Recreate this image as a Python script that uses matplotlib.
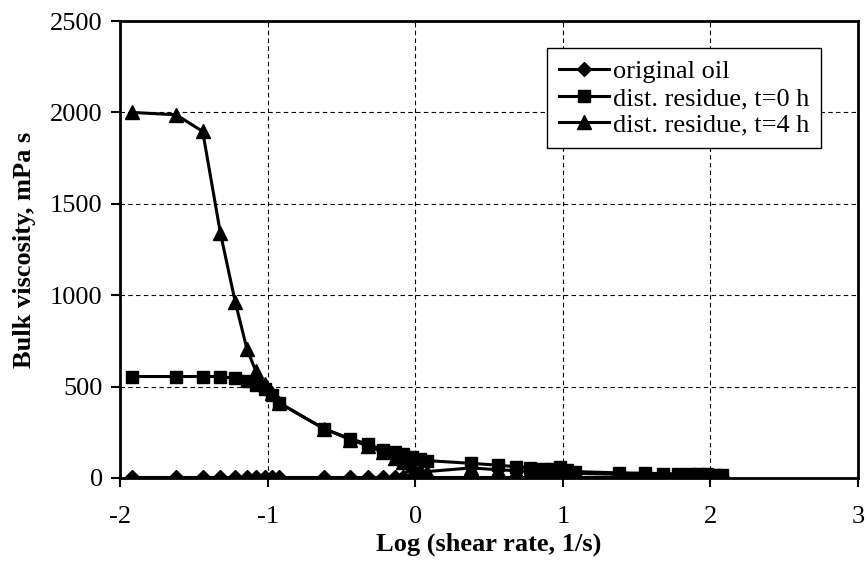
import matplotlib.pyplot as plt

plt.rcParams['font.family'] = ['Liberation Serif', 'DejaVu Serif']
plt.rcParams['axes.unicode_minus'] = False

# log10 of shear rate, 1/s
log_rate = [-1.92, -1.62, -1.44, -1.32, -1.22, -1.14, -1.08, -1.02, -0.97, -0.92,
            -0.62, -0.44, -0.32, -0.22, -0.14, -0.08, -0.02, 0.03, 0.08,
            0.38, 0.56, 0.68, 0.78, 0.86, 0.92, 0.98, 1.03, 1.08,
            1.38, 1.56, 1.68, 1.78, 1.86, 1.92, 1.98, 2.03, 2.08]

# bulk viscosity, mPa s
original_oil = [6, 6, 6, 6, 6, 6, 6, 6, 6, 6,
                6, 6, 6, 6, 6, 6, 6, 6, 6,
                6, 6, 6, 6, 6, 6, 6, 6, 6,
                6, 6, 6, 6, 6, 6, 6, 6, 6]
residue_0h = [555, 555, 555, 555, 545, 530, 510, 485, 455, 410,
              270, 215, 185, 155, 140, 130, 115, 105, 95,
              80, 70, 62, 55, 50, 50, 60, 45, 35,
              28, 26, 24, 22, 20, 20, 19, 18, 18]
residue_4h = [2000, 1987, 1896, 1340, 965, 705, 585, 515, 465, 410,
              270, 210, 175, 140, 110, 90, 70, 45, 35,
              55, 45, 40, 35, 32, 30, 30, 28, 25,
              20, 18, 16, 15, 14, 13, 12, 12, 12]

fig, ax = plt.subplots(figsize=(8.66, 5.68), dpi=100)
fig.subplots_adjust(left=0.1386, right=0.9908, top=0.963, bottom=0.1585)

ax.plot(log_rate, original_oil, color='black', lw=2.2, marker='D', ms=7, label='original oil')
ax.plot(log_rate, residue_0h, color='black', lw=2.2, marker='s', ms=9, label='dist. residue, t=0 h')
ax.plot(log_rate, residue_4h, color='black', lw=2.2, marker='^', ms=10, label='dist. residue, t=4 h')

ax.set_xlim(-2, 3)
ax.set_ylim(0, 2500)
ax.set_xticks([-2, -1, 0, 1, 2, 3])
ax.set_yticks([0, 500, 1000, 1500, 2000, 2500])
ax.grid(True, color='black', linestyle=(0, (4, 3)), linewidth=0.8)
ax.tick_params(direction='out', length=6.5, width=1.5, labelsize=19, pad=6)
ax.tick_params(axis='x', pad=14)
for s in ax.spines.values():
    s.set_linewidth(2)

ax.set_xlabel('Log (shear rate, 1/s)', fontsize=19, fontweight='bold', labelpad=3)
ax.set_ylabel('Bulk viscosity, mPa s', fontsize=19, fontweight='bold', labelpad=10)

leg = ax.legend(loc='upper right', bbox_to_anchor=(0.95, 0.941), fontsize=19,
                frameon=True, fancybox=False, edgecolor='black', framealpha=1,
                handlelength=1.9, borderpad=0.45, labelspacing=0.12, handletextpad=0.15,
                borderaxespad=0)
leg.get_frame().set_linewidth(1)

fig.savefig('out.png')
